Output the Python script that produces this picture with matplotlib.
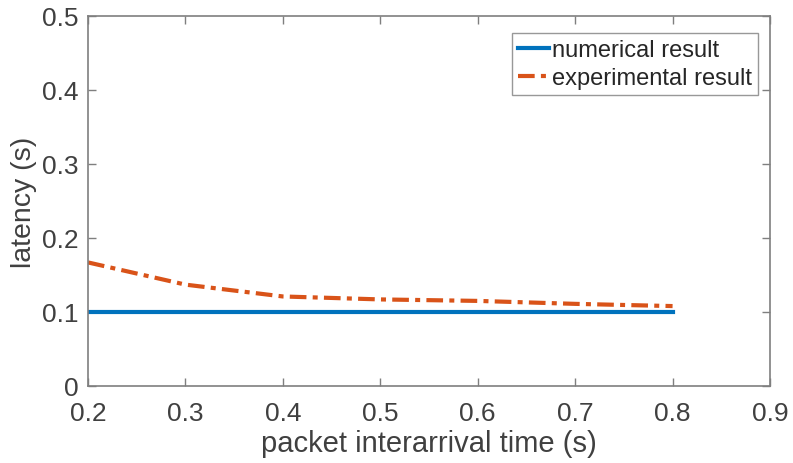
import matplotlib.pyplot as plt

plt.rcParams['font.family'] = ['Liberation Sans', 'DejaVu Sans']

x = [0.2, 0.3, 0.4, 0.5, 0.6, 0.7, 0.8]
numerical = [0.1, 0.1, 0.1, 0.1, 0.1, 0.1, 0.1]
experimental = [0.167, 0.137, 0.121, 0.117, 0.115, 0.111, 0.108]

xticks = [0.2, 0.3, 0.4, 0.5, 0.6, 0.7, 0.8, 0.9]
yticks = [0, 0.1, 0.2, 0.3, 0.4, 0.5]

fig = plt.figure(figsize=(7.93, 4.64), dpi=100)
ax = fig.add_axes([88 / 793, 1 - 387 / 464, (770 - 88) / 793, (387 - 17) / 464])

ax.plot(x, numerical, color='#0072BD', lw=3, label='numerical result')
ax.plot(x, experimental, color='#D95319', lw=3, ls=(0, (4, 1.5, 1.2, 1.5)),
        label='experimental result')

ax.set_xlim(0.2, 0.9)
ax.set_ylim(0, 0.5)
ax.set_xticks(xticks)
ax.set_xticklabels([f'{t:g}' for t in xticks])
ax.set_yticks(yticks)
ax.set_yticklabels([f'{t:g}' for t in yticks])

gray = '#404040'
for s in ax.spines.values():
    s.set_color('#7f7f7f')
    s.set_linewidth(1.2)
ax.tick_params(direction='in', top=True, right=True, length=6, width=1,
               color='#7f7f7f', labelcolor=gray, labelsize=19)
ax.tick_params(axis='x', pad=11)
ax.tick_params(axis='y', pad=7)
ax.set_xlabel('packet interarrival time (s)', fontsize=21, color=gray, labelpad=3)
ax.set_ylabel('latency (s)', fontsize=20.5, color=gray, labelpad=3)

leg = ax.legend(loc='upper right', bbox_to_anchor=(1 - 12 / 682, 1 - 17 / 370),
                borderaxespad=0, fontsize=17, frameon=True, fancybox=False,
                edgecolor='#7f7f7f', handlelength=1.3, handletextpad=0.15,
                borderpad=0.25, labelspacing=0.25)
for t in leg.get_texts():
    t.set_color('#262626')
leg.get_frame().set_linewidth(1.0)

fig.savefig('out.png', dpi=100)
